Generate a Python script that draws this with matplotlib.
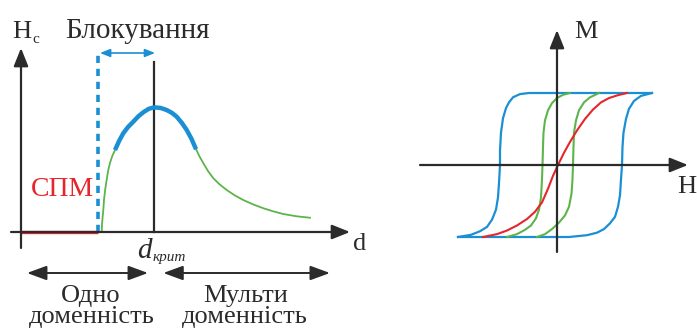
import numpy as np
import matplotlib
matplotlib.use("Agg")
import matplotlib.pyplot as plt

# --- left panel: coercivity vs particle size ---
rise_d = [0.607, 0.609, 0.614, 0.620, 0.624, 0.633, 0.644, 0.655, 0.669, 0.687, 0.707]
rise_hc = [0.0, 0.06, 0.122, 0.19, 0.256, 0.34, 0.416, 0.49, 0.552, 0.61, 0.656]
block_d = [0.707, 0.737, 0.769, 0.805, 0.844, 0.882, 0.920, 0.960, 1.0, 1.048, 1.095,
           1.135, 1.171, 1.210, 1.246, 1.282, 1.316]
block_hc = [0.656, 0.727, 0.790, 0.840, 0.882, 0.925, 0.958, 0.985, 0.997, 0.993, 0.976,
            0.953, 0.922, 0.872, 0.816, 0.745, 0.662]
decay_d = [1.316, 1.342, 1.371, 1.406, 1.446, 1.494, 1.547, 1.607, 1.671, 1.745, 1.822,
           1.897, 1.972, 2.07, 2.173]
decay_hc = [0.662, 0.605, 0.550, 0.488, 0.430, 0.380, 0.336, 0.293, 0.256, 0.221, 0.190,
            0.165, 0.144, 0.126, 0.114]
spm_d = [0.0, 0.579]
d_block = 0.579
d_crit = 1.0

# --- right panel: hysteresis loops M(H) ---
blue_down_h = [0.95, -0.28, -0.37, -0.44, -0.48, -0.51, -0.54, -0.56, -0.57, -0.57, -0.58,
               -0.59, -0.61, -0.65, -0.70, -0.77, -0.86, -0.99]
blue_down_m = [1.0, 1.0, 0.985, 0.94, 0.87, 0.79, 0.65, 0.45, 0.2, 0.0, -0.25,
               -0.45, -0.62, -0.76, -0.86, -0.92, -0.97, -1.0]
blue_up_h = [-0.99, 0.12, 0.30, 0.40, 0.47, 0.53, 0.58, 0.61, 0.63, 0.64, 0.65,
             0.655, 0.665, 0.69, 0.72, 0.77, 0.84, 0.95]
blue_up_m = [-1.0, -1.0, -0.975, -0.94, -0.89, -0.81, -0.72, -0.58, -0.42, -0.2, 0.0,
             0.25, 0.45, 0.64, 0.78, 0.89, 0.96, 1.0]
green_a_h = [-0.50, -0.40, -0.32, -0.26, -0.21, -0.18, -0.16, -0.15, -0.145, -0.14, -0.135,
             -0.12, -0.09, -0.05, 0.0, 0.06, 0.13]
green_a_m = [-1.0, -0.96, -0.90, -0.84, -0.74, -0.62, -0.45, -0.2, 0.0, 0.25, 0.45,
             0.62, 0.76, 0.86, 0.93, 0.975, 1.0]
green_b_h = [-0.20, -0.12, -0.05, 0.02, 0.08, 0.12, 0.145, 0.155, 0.16, 0.165, 0.17,
             0.19, 0.22, 0.27, 0.33, 0.42]
green_b_m = [-1.0, -0.96, -0.89, -0.80, -0.70, -0.58, -0.40, -0.2, 0.0, 0.25, 0.45,
             0.62, 0.76, 0.87, 0.94, 1.0]
red_h = [-0.74, -0.60, -0.50, -0.40, -0.30, -0.22, -0.15, -0.09, -0.04, 0.01, 0.07,
         0.13, 0.20, 0.28, 0.36, 0.44, 0.52, 0.61, 0.70]
red_m = [-1.0, -0.96, -0.91, -0.84, -0.75, -0.65, -0.52, -0.33, -0.15, 0.0, 0.17,
         0.32, 0.48, 0.64, 0.77, 0.87, 0.93, 0.97, 1.0]

BLUE = "#1b8fd4"
GREEN = "#5cb44b"
RED = "#e5262b"
INK = "#2b2b2b"
W, H = 697, 329

plt.rcParams['font.family'] = ['Liberation Serif', 'DejaVu Serif']
fig = plt.figure(figsize=(W / 100, H / 100), dpi=100)


def arrow(ax, start, tip, style='-|>', color=INK, lw=1.6, scale=20):
    ax.annotate('', xy=tip, xytext=start,
                arrowprops=dict(arrowstyle=style, color=color, lw=lw,
                                shrinkA=0, shrinkB=0, mutation_scale=scale))


def ftext(px, py, s, **kw):
    # px, py: anchor in pixels from the top-left corner, baseline by default
    kw.setdefault('va', 'baseline')
    fig.text(px / W, 1 - py / H, s, color=kw.pop('color', INK), **kw)


# left panel
ax = fig.add_axes([0, 0, 360 / W, 1])
ax.set_xlim(-21 / 133, 339 / 133)
ax.set_ylim(-97 / 125, 232 / 125)
ax.axis('off')

arrow(ax, (0, -0.128), (0, 1.472), style='-|>,head_length=0.55,head_width=0.22')
arrow(ax, (-0.075, 0), (2.474, 0), style='-|>,head_length=0.55,head_width=0.22')
ax.plot([d_crit, d_crit], [0, 1.36], color=INK, lw=1.6)
ax.plot(spm_d, [0, 0], color=RED, lw=2.4, solid_capstyle='butt')
ax.plot([d_block, d_block], [0, 1.44], color=BLUE, lw=2.6, dashes=(2.0, 1.6))
ax.plot(rise_d, rise_hc, color=GREEN, lw=1.3)
ax.plot(decay_d, decay_hc, color=GREEN, lw=1.3)
ax.plot(block_d, block_hc, color=BLUE, lw=3.2, solid_capstyle='butt')
arrow(ax, (0.594, 1.432), (1.008, 1.432), style='<|-|>,head_length=0.5,head_width=0.2',
      color=BLUE, lw=1.2, scale=12)
arrow(ax, (0.045, -0.328), (0.955, -0.328), style='<|-|>,head_length=0.6,head_width=0.22', lw=1.4)
arrow(ax, (1.07, -0.328), (2.323, -0.328), style='<|-|>,head_length=0.6,head_width=0.22', lw=1.4)

ftext(12, 38, "H", fontsize=19)
ftext(32, 43, "c", fontsize=11)
ftext(137.5, 38, "Блокування", fontsize=21, ha='center')
ftext(62, 196, "СПМ", fontsize=20, ha='center', color=RED)
ftext(353, 250, "d", fontsize=19)
ftext(137, 258, "d", fontsize=21, style='italic')
ftext(153, 261, "крит", fontsize=11, style='italic')
ftext(91, 302, "Одно", fontsize=19, ha='center')
ftext(92, 323, "доменність", fontsize=19, ha='center')
ftext(246, 302, "Мульти", fontsize=19, ha='center')
ftext(245, 323, "доменність", fontsize=19, ha='center')

# right panel
bx = fig.add_axes([400 / W, 0, 297 / W, 1])
bx.set_xlim(-157 / 100, 140 / 100)
bx.set_ylim(-164 / 72, 165 / 72)
bx.axis('off')

arrow(bx, (0, -1.208), (0, 1.875), style='-|>,head_length=0.55,head_width=0.22')
arrow(bx, (-1.37, 0), (1.31, 0), style='-|>,head_length=0.55,head_width=0.22')
bx.plot(blue_down_h, blue_down_m, color=BLUE, lw=1.6)
bx.plot(blue_up_h, blue_up_m, color=BLUE, lw=1.6)
bx.plot(green_a_h, green_a_m, color=GREEN, lw=1.5)
bx.plot(green_b_h, green_b_m, color=GREEN, lw=1.5)
bx.plot(red_h, red_m, color=RED, lw=1.5)

ftext(586, 38, "M", fontsize=19, ha='center')
ftext(687, 193, "H", fontsize=19, ha='center')

fig.savefig("out.png", dpi=100)
